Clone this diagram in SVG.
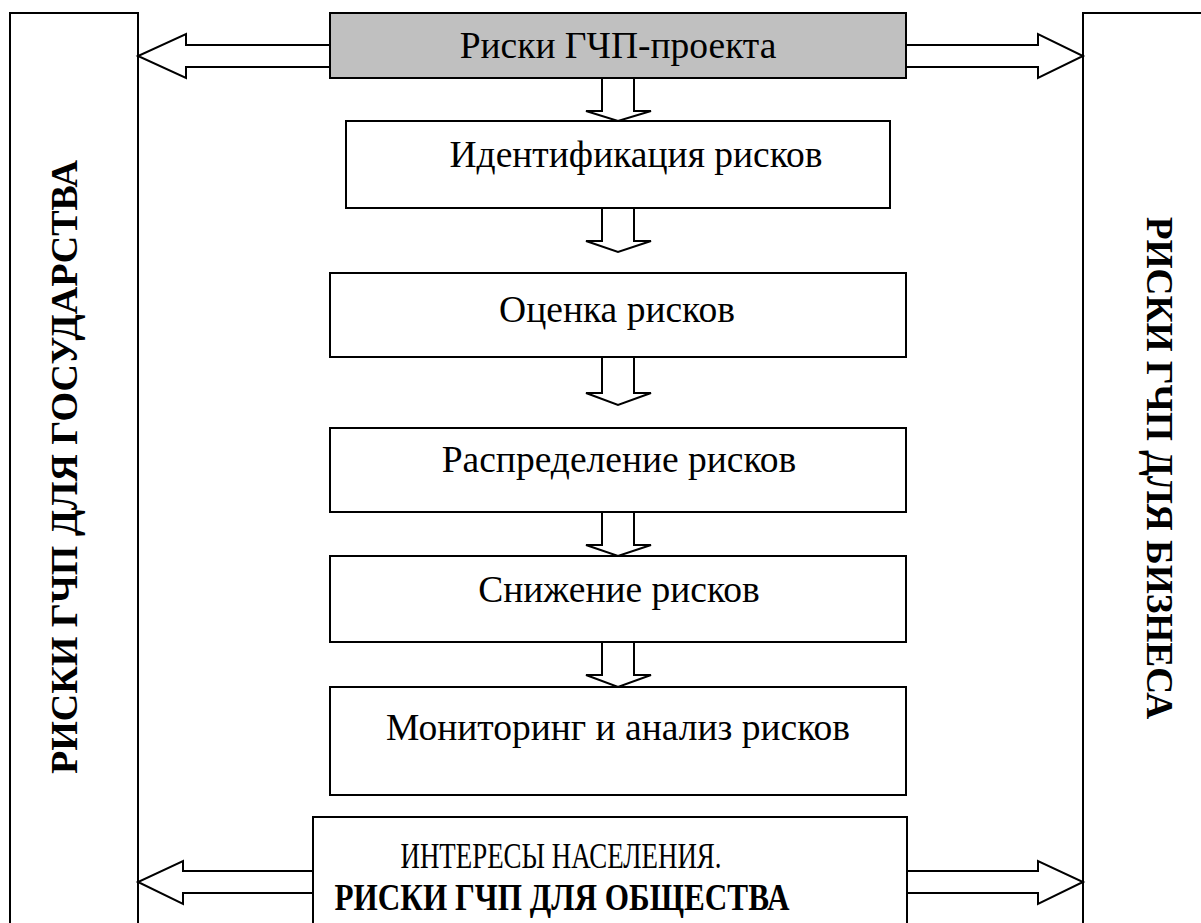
<svg xmlns="http://www.w3.org/2000/svg" width="1201" height="923" viewBox="0 0 1201 923">
  <style>
    .box { fill: #ffffff; stroke: #000000; stroke-width: 2; }
    .head { fill: #c0c0c0; stroke: #000000; stroke-width: 2; }
    .arrow { fill: #ffffff; stroke: #000000; stroke-width: 2; stroke-linejoin: miter; }
    .lbl { font-family: "Liberation Serif", serif; font-size: 37.5px; fill: #000000; text-anchor: middle; }
    .side { font-family: "Liberation Serif", serif; font-weight: bold; fill: #000000; text-anchor: middle; }
    .cap { font-family: "Liberation Serif", serif; font-size: 35px; fill: #000000; text-anchor: middle; }
    .capb { font-family: "Liberation Serif", serif; font-size: 37px; font-weight: bold; fill: #000000; text-anchor: middle; }
  </style>
  <rect width="1201" height="923" fill="#ffffff"/>

  <!-- side columns -->
  <g id="state">
    <rect class="box" x="10" y="13" width="128" height="930"/>
    <text class="side" font-size="38" transform="translate(77,467) rotate(-90)">РИСКИ ГЧП ДЛЯ ГОСУДАРСТВА</text>
  </g>
  <g id="business">
    <rect class="box" x="1083" y="13" width="140" height="930"/>
    <text class="side" font-size="37.3" transform="translate(1147,468) rotate(90)">РИСКИ ГЧП ДЛЯ БИЗНЕСА</text>
  </g>

  <!-- connectors: hollow block arrows -->
  <g id="connectors">
    <polygon class="arrow" points="330,45 186,45 186,34 138,56 186,78 186,67 330,67"/>
    <polygon class="arrow" points="906,45 1038,45 1038,34 1083,56 1038,78 1038,67 906,67"/>
    <polygon class="arrow" points="313,871 183,871 183,861 138,882 183,904 183,893 313,893"/>
    <polygon class="arrow" points="907,871 1038,871 1038,861 1083,882 1038,904 1038,893 907,893"/>
    <polygon class="arrow" points="602,78 602,111 586,111 618,121 651,111 634,111 634,78"/>
    <polygon class="arrow" points="602,208 602,241 586,241 618,252 651,241 634,241 634,208"/>
    <polygon class="arrow" points="602,357 602,393 586,393 618,405 651,393 634,393 634,357"/>
    <polygon class="arrow" points="602,512 602,545 586,545 618,556 651,545 634,545 634,512"/>
    <polygon class="arrow" points="602,642 602,675 586,675 618,687 651,675 634,675 634,642"/>
  </g>

  <g id="project">
    <rect class="head" x="330" y="13" width="576" height="65"/>
    <text class="lbl" x="618" y="58">Риски ГЧП-проекта</text>
  </g>
  <g id="identify">
    <rect class="box" x="346" y="121" width="544" height="87"/>
    <text class="lbl" x="636" y="167">Идентификация рисков</text>
  </g>
  <g id="assess">
    <rect class="box" x="330" y="273" width="576" height="84"/>
    <text class="lbl" x="617" y="322">Оценка рисков</text>
  </g>
  <g id="allocate">
    <rect class="box" x="330" y="428" width="576" height="84"/>
    <text class="lbl" x="619" y="472">Распределение рисков</text>
  </g>
  <g id="mitigate">
    <rect class="box" x="330" y="556" width="576" height="86"/>
    <text class="lbl" x="619" y="602">Снижение рисков</text>
  </g>
  <g id="monitor">
    <rect class="box" x="330" y="687" width="576" height="108"/>
    <text class="lbl" x="618" y="740">Мониторинг и анализ рисков</text>
  </g>
  <g id="society">
    <rect class="box" x="313" y="817" width="594" height="120"/>
    <text class="cap" x="561" y="868" textLength="321" lengthAdjust="spacingAndGlyphs">ИНТЕРЕСЫ НАСЕЛЕНИЯ.</text>
    <text class="capb" x="562" y="910" textLength="455" lengthAdjust="spacingAndGlyphs">РИСКИ ГЧП ДЛЯ ОБЩЕСТВА</text>
  </g>
</svg>
